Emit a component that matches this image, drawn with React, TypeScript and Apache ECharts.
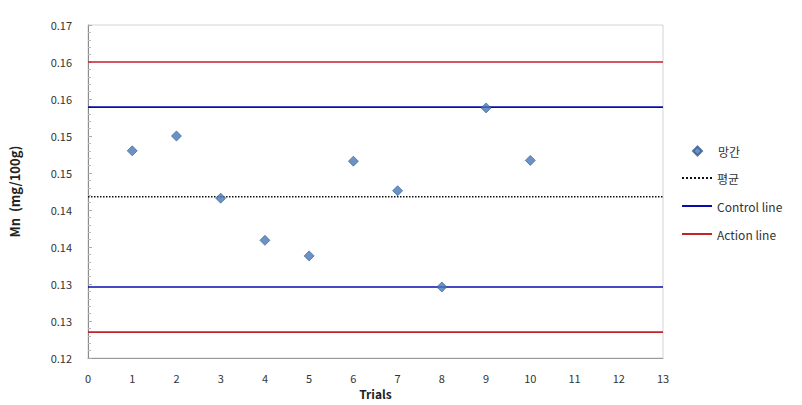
import React, { useEffect, useRef } from "react";
import * as echarts from "echarts";

const trials = [1, 2, 3, 4, 5, 6, 7, 8, 9, 10];
const manganese = [0.148, 0.150, 0.1416, 0.1359, 0.1338, 0.1466, 0.1426, 0.1296, 0.1538, 0.1467];
const meanValue = 0.1418;
const controlLimits = [0.1539, 0.1296];
const actionLimits = [0.1600, 0.1235];
const xRange = [0, 13];
const yRange = [0.12, 0.165];

const FONT = "'Noto Sans CJK KR', 'Noto Sans', sans-serif";
const MARKER = "#4677B4";

export default function App() {
  const ref = useRef<HTMLDivElement>(null);
  useEffect(() => {
    if (!ref.current) return;
    const chart = echarts.init(ref.current, undefined, { renderer: "svg" });
    const hLine = (v: number) => [
      [xRange[0], v],
      [xRange[1], v],
    ];
    const legendText = { fontSize: 12, color: "#333", fontFamily: FONT };
    chart.setOption({
      animation: false,
      textStyle: { fontFamily: FONT },
      grid: {
        left: 88,
        right: 139,
        top: 25,
        bottom: 47,
        show: true,
        borderColor: "#d4d4d4",
        borderWidth: 1,
      },
      legend: [
        {
          orient: "vertical",
          left: 687,
          top: 140,
          itemWidth: 9,
          itemHeight: 9,
          textStyle: { ...legendText, padding: [0, 0, 0, 11] },
          data: [{ name: "망간", icon: "diamond" }],
        },
        {
          orient: "vertical",
          left: 676,
          top: 167,
          itemGap: 16,
          itemWidth: 30,
          itemHeight: 14,
          textStyle: legendText,
          data: [
            { name: "평균", itemStyle: { opacity: 0 } },
            { name: "Control line", itemStyle: { opacity: 0 } },
            { name: "Action line", itemStyle: { opacity: 0 } },
          ],
        },
      ],
      xAxis: {
        type: "value",
        min: xRange[0],
        max: xRange[1],
        interval: 1,
        name: "Trials",
        nameLocation: "middle",
        nameGap: 23,
        nameTextStyle: { fontSize: 12, fontWeight: "bold", color: "#222", fontFamily: FONT },
        axisLine: { show: true, lineStyle: { color: "#9a9a9a" } },
        axisTick: { show: false },
        splitLine: { show: false },
        axisLabel: { fontSize: 11, color: "#333", margin: 14, fontFamily: FONT },
      },
      yAxis: {
        type: "value",
        min: yRange[0],
        max: yRange[1],
        interval: 0.005,
        name: "Mn  (mg/100g)",
        nameLocation: "middle",
        nameGap: 67,
        nameTextStyle: { fontSize: 13, fontWeight: "bold", color: "#222", fontFamily: FONT },
        axisLine: { show: true, lineStyle: { color: "#8a8a8a" } },
        axisTick: { show: true, inside: true, length: 4, lineStyle: { color: "#aaa" } },
        minorTick: { show: true, splitNumber: 5, length: 3, lineStyle: { color: "#bbb" } },
        splitLine: { show: false },
        axisLabel: {
          fontSize: 11,
          color: "#333",
          margin: 16,
          fontFamily: FONT,
          formatter: (v: number) => (Math.round(v * 100 + 1e-6) / 100).toFixed(2),
        },
      },
      series: [
        {
          name: "망간",
          type: "scatter",
          symbol: "diamond",
          symbolSize: 10,
          itemStyle: { color: MARKER, borderColor: "#2F5B8F", borderWidth: 0.8 },
          data: trials.map((t, i) => [t, manganese[i]]),
          z: 5,
        },
        {
          name: "평균",
          type: "line",
          symbol: "none",
          lineStyle: { color: "#111", width: 1.5, type: "dotted" },
          itemStyle: { color: "#111" },
          data: hLine(meanValue),
        },
        ...controlLimits.map((v) => ({
          name: "Control line",
          type: "line",
          symbol: "none",
          lineStyle: { color: "#0B0BAA", width: 1.6 },
          itemStyle: { color: "#0B0BAA" },
          data: hLine(v),
        })),
        ...actionLimits.map((v) => ({
          name: "Action line",
          type: "line",
          symbol: "none",
          lineStyle: { color: "#C3222B", width: 1.6 },
          itemStyle: { color: "#C3222B" },
          data: hLine(v),
        })),
      ],
    });
    return () => chart.dispose();
  }, []);
  return <div ref={ref} style={{ width: 802, height: 405, position: "absolute", left: 0, top: 0 }} />;
}
